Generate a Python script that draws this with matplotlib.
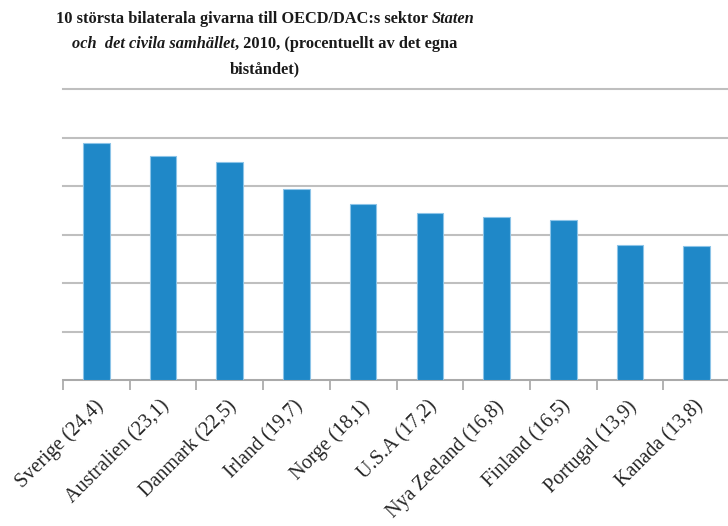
import matplotlib.pyplot as plt

countries = ['Sverige', 'Australien', 'Danmark', 'Irland', 'Norge', 'U.S.A',
             'Nya Zeeland', 'Finland', 'Portugal', 'Kanada']
values = [24.4, 23.1, 22.5, 19.7, 18.1, 17.2, 16.8, 16.5, 13.9, 13.8]
labels = [f"{c} ({str(v).replace('.', ',')})" for c, v in zip(countries, values)]

serif = ['Liberation Serif', 'DejaVu Serif']

fig = plt.figure(figsize=(7.28, 5.26), dpi=100)
ax = fig.add_axes([63 / 728, 1 - 380 / 526, 667 / 728, 291 / 526])

x = range(len(values))
ax.bar(x, values, width=0.4, color='#1f88c8', edgecolor='#8cc4e8', linewidth=0.8, zorder=3)

ax.set_xlim(-0.5, len(values) - 0.5)
ax.set_ylim(0, 30)
ax.set_yticks([0, 5, 10, 15, 20, 25, 30])
ax.yaxis.grid(True, color='#bfbfbf', linewidth=1.5, zorder=0)
for gl in ax.get_ygridlines():
    gl.set_clip_on(False)
ax.tick_params(axis='y', length=0, labelleft=False)
for s in ['left', 'right', 'top']:
    ax.spines[s].set_visible(False)
ax.spines['bottom'].set_color('#a6a6a6')
ax.spines['bottom'].set_linewidth(1.2)

# ticks between categories
ax.set_xticks([i - 0.5 for i in range(len(values) + 1)])
ax.set_xticklabels([])
ax.tick_params(axis='x', length=7, color='#a6a6a6', width=1.2)
for i, lab in enumerate(labels):
    ax.annotate(lab, xy=(i, 0), xycoords=('data', 'axes fraction'),
                xytext=(3, -17), textcoords='offset points',
                rotation=45, ha='right', va='center', rotation_mode='anchor',
                fontsize=14.5, family=serif, color='#262626')

# title with bold and bold-italic parts
lines = [
    [('10 största bilaterala givarna till OECD/DAC:s sektor ', 'normal'), ('Staten', 'italic')],
    [('och  det civila samhället', 'italic'), (', 2010, (procentuellt av det egna', 'normal')],
    [('biståndet)', 'normal')],
]
renderer = fig.canvas.get_renderer()
cx = 265
ys = [19, 44, 69]
for parts, y in zip(lines, ys):
    texts = []
    widths = []
    for s, style in parts:
        t = fig.text(0, 0, s, fontsize=11.8, fontweight='bold', style=style,
                     family=serif, color='#1a1a1a', va='center', ha='left')
        w = t.get_window_extent(renderer).width
        texts.append(t)
        widths.append(w)
    xpos = cx - sum(widths) / 2
    for t, w in zip(texts, widths):
        t.set_position((xpos / 728, 1 - y / 526))
        xpos += w

fig.savefig('out.png', dpi=100)
